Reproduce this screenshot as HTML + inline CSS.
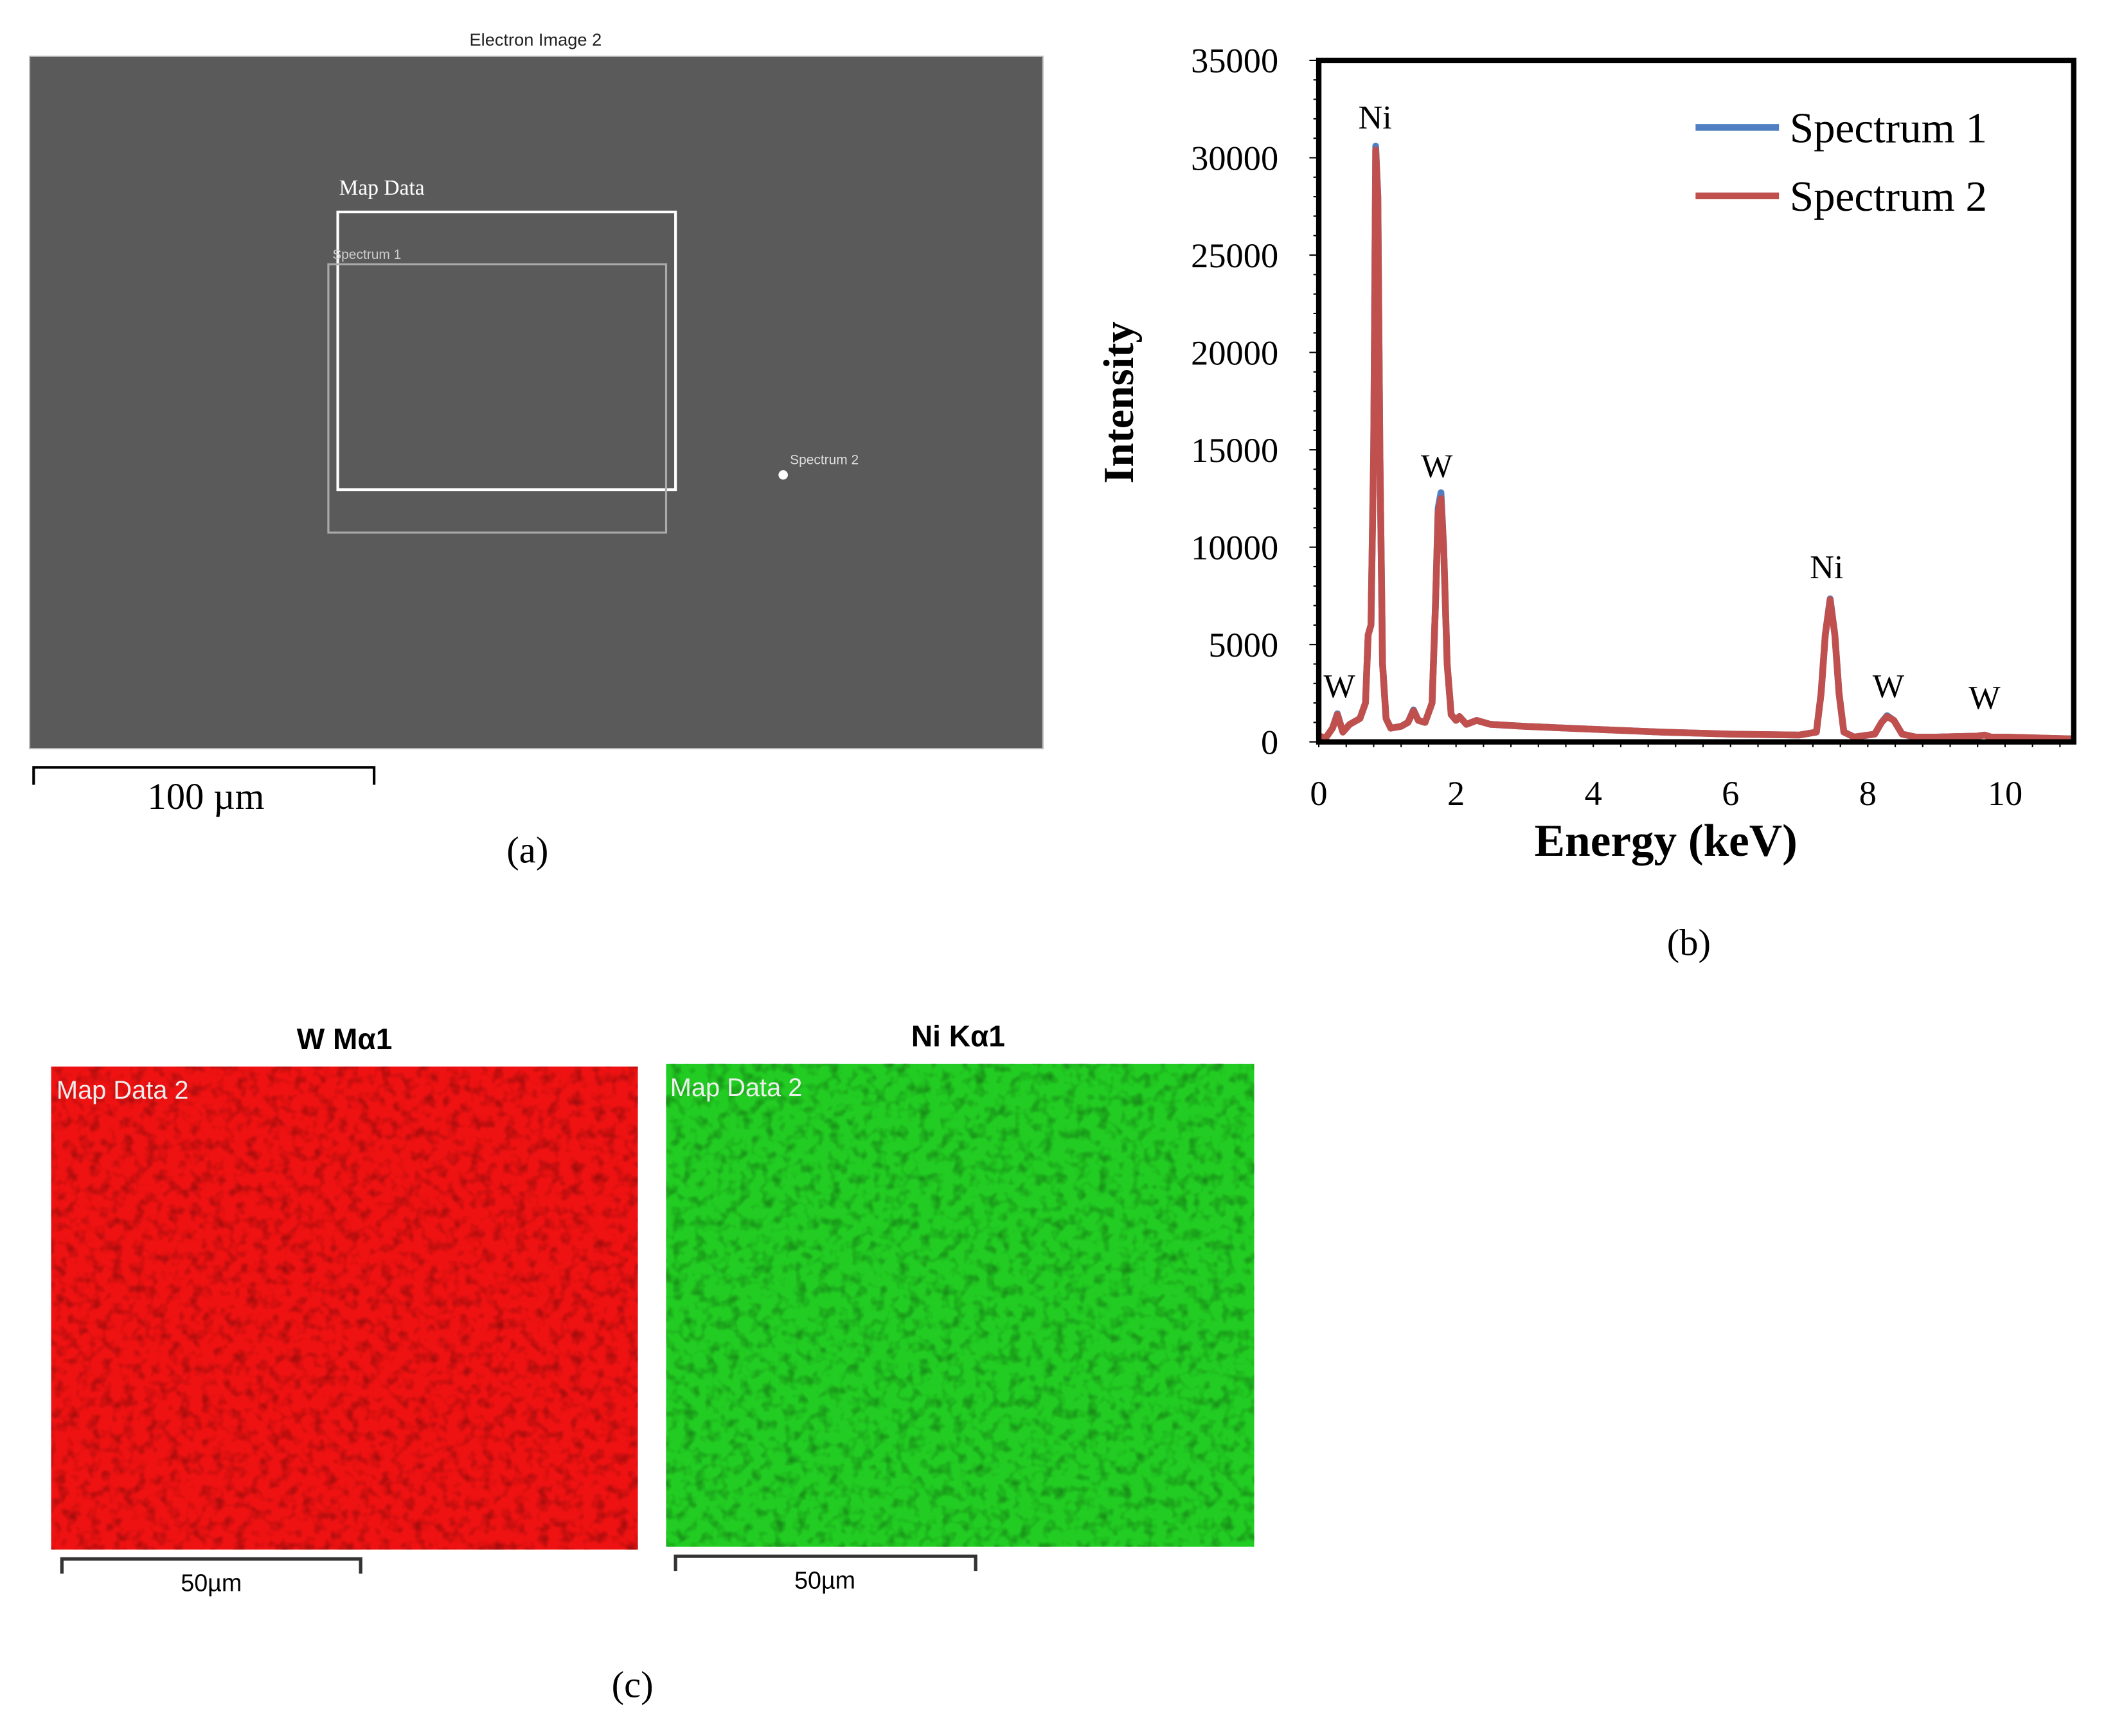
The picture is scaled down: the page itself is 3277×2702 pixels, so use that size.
<!DOCTYPE html>
<html><head><meta charset="utf-8">
<style>
html,body{margin:0;padding:0;background:#fff;}
svg{display:block;}
.serif{font-family:"Liberation Serif",serif;}
.sans{font-family:"Liberation Sans",sans-serif;}
</style></head>
<body>
<svg id="fig" width="3277" height="2702" viewBox="0 0 1565 1294" preserveAspectRatio="none" xmlns="http://www.w3.org/2000/svg">
<defs>
<filter id="noiseR" x="0" y="0" width="100%" height="100%">
<feTurbulence type="fractalNoise" baseFrequency="0.12" numOctaves="2" seed="3"/>
<feColorMatrix type="matrix" values="0 0 0 0 0  0 0 0 0 0  0 0 0 0 0  0 0 0 -1.4 0.75"/>
</filter>
<filter id="noiseG" x="0" y="0" width="100%" height="100%">
<feTurbulence type="fractalNoise" baseFrequency="0.12" numOctaves="2" seed="7"/>
<feColorMatrix type="matrix" values="0 0 0 0 0  0 0 0 0 0  0 0 0 0 0  0 0 0 -1.4 0.75"/>
</filter>
</defs>

<!-- Panel (a) -->
<g>
<text x="398" y="34" text-anchor="middle" class="sans" font-size="13" fill="#222">Electron Image 2</text>
<rect x="22" y="42" width="753" height="516" fill="#5a5a5a" stroke="#bbb" stroke-width="1"/>
<text x="252" y="145" class="serif" font-size="16" fill="#fff">Map Data</text>
<rect x="251" y="158" width="251" height="207" fill="none" stroke="#fff" stroke-width="2"/>
<text x="247" y="193" class="sans" font-size="10" fill="#ccc">Spectrum 1</text>
<rect x="244" y="197" width="251" height="200" fill="none" stroke="#aaa" stroke-width="1.5"/>
<circle cx="582" cy="354" r="3.5" fill="#fff"/>
<text x="587" y="346" class="sans" font-size="10" fill="#ddd">Spectrum 2</text>
<path d="M25 585 V572 H278 V585" fill="none" stroke="#000" stroke-width="2"/>
<text x="153" y="603" text-anchor="middle" class="serif" font-size="28">100 µm</text>
<text x="392" y="643" text-anchor="middle" class="serif" font-size="28">(a)</text>
</g>

<!-- Panel (b) chart -->
<g id="chart"></g>
<text x="1255" y="712" text-anchor="middle" class="serif" font-size="28">(b)</text>

<!-- Panel (c) -->
<g>
<text x="256" y="782" text-anchor="middle" class="sans" font-weight="bold" font-size="22">W Mα1</text>
<rect x="38" y="795" width="436" height="360" fill="#ee1212"/>
<rect x="38" y="795" width="436" height="360" fill="#000" filter="url(#noiseR)" opacity="0.5"/>
<text x="42" y="819" class="sans" font-size="19" fill="#eee">Map Data 2</text>
<path d="M46 1173 V1162 H268 V1173" fill="none" stroke="#333" stroke-width="2.5"/>
<text x="157" y="1186" text-anchor="middle" class="sans" font-size="18">50µm</text>

<text x="712" y="780" text-anchor="middle" class="sans" font-weight="bold" font-size="22">Ni Kα1</text>
<rect x="495" y="793" width="437" height="360" fill="#22cc22"/>
<rect x="495" y="793" width="437" height="360" fill="#000" filter="url(#noiseG)" opacity="0.5"/>
<text x="498" y="817" class="sans" font-size="19" fill="#eee">Map Data 2</text>
<path d="M502 1171 V1160 H725 V1171" fill="none" stroke="#333" stroke-width="2.5"/>
<text x="613" y="1184" text-anchor="middle" class="sans" font-size="18">50µm</text>
<text x="470" y="1265" text-anchor="middle" class="serif" font-size="28">(c)</text>
</g>
</svg>

<script>
const energy = [0,0.1,0.2,0.27,0.35,0.45,0.6,0.68,0.72,0.76,0.8,0.83,0.86,0.89,0.93,0.98,1.05,1.2,1.3,1.38,1.45,1.55,1.65,1.7,1.74,1.78,1.82,1.87,1.93,2.0,2.05,2.15,2.3,2.5,3,4,5,6,7,7.25,7.32,7.38,7.45,7.52,7.58,7.65,7.8,8.1,8.2,8.28,8.38,8.5,8.7,9,9.6,9.7,9.8,10,11];
const spectrum1 = [300,200,700,1450,500,900,1200,2000,5500,6000,15000,30600,28000,15000,4000,1200,700,800,1000,1650,1100,1000,2000,7000,12000,12800,10000,4000,1400,1100,1300,900,1100,900,800,650,500,400,350,500,2500,5500,7350,5500,2500,500,250,400,1000,1350,1100,400,250,250,300,350,250,250,150];
const spectrum2 = [300,200,700,1400,500,900,1200,2000,5500,6000,15000,30400,28000,15000,4000,1200,700,800,1000,1600,1100,1000,2000,7000,11800,12500,10000,4000,1400,1100,1300,900,1100,900,800,650,500,400,350,500,2500,5500,7300,5500,2500,500,250,400,1000,1300,1100,400,250,250,300,350,250,250,150];
const yTicks = [0,5000,10000,15000,20000,25000,30000,35000];
const xTicks = [0,2,4,6,8,10];
const peakLabels = ["Ni","W","Ni","W","W","W"];
const peakEnergy = [0.82,1.72,7.4,0.3,8.3,9.7];
const peakIntensity = [31500,13600,8400,2300,2300,1700];
const seriesNames = ["Spectrum 1","Spectrum 2"];

const NS="http://www.w3.org/2000/svg";
const L=980,R=1541,T=45,B=553,XMAX=11,YMAX=35000;
const sx=v=>L+(v/XMAX)*(R-L);
const sy=v=>B-(v/YMAX)*(B-T);
const g=document.getElementById('chart');
function mk(tag,attrs,parent){const e=document.createElementNS(NS,tag);for(const k in attrs)e.setAttribute(k,attrs[k]);(parent||g).appendChild(e);return e;}

for(let v=0;v<=YMAX;v+=1000){
  const t=mk('line',{x1:L-(v%5000===0?7:4),x2:L,y1:sy(v),y2:sy(v),stroke:'#000','stroke-width':1});
  
  
}
for(let v=0;v<=XMAX+1e-6;v+=0.4){
  const t=mk('line',{x1:sx(v),x2:sx(v),y1:B,y2:B+4,stroke:'#000','stroke-width':1});
  
  
}
yTicks.forEach(v=>{
  const t=mk('text',{x:950,y:sy(v)+9,'text-anchor':'end','font-size':26,'class':'serif'});
  t.textContent=v;
  
  
});
xTicks.forEach(v=>{
  const t=mk('text',{x:sx(v),y:600,'text-anchor':'middle','font-size':26,'class':'serif'});
  t.textContent=v;
  
  
});
function path(xs,ys){return xs.map((x,i)=>(i?'L':'M')+sx(x).toFixed(1)+' '+sy(ys[i]).toFixed(1)).join(' ');}
const p1=mk('path',{d:path(energy,spectrum1),fill:'none',stroke:'#4f7fc0','stroke-width':5,'stroke-linejoin':'round'});


const p2=mk('path',{d:path(energy,spectrum2),fill:'none',stroke:'#c0504d','stroke-width':5,'stroke-linejoin':'round'});


peakLabels.forEach((s,i)=>{
  const t=mk('text',{x:sx(peakEnergy[i]),y:sy(peakIntensity[i]),'text-anchor':'middle','font-size':25,'class':'serif'});
  t.textContent=s;
  
  
});
const fr=mk('rect',{x:L,y:T,width:R-L,height:B-T,fill:'none',stroke:'#000','stroke-width':4});


const cols=['#4f7fc0','#c0504d'];
seriesNames.forEach((s,i)=>{
  const y=95+i*51;
  const ln=mk('line',{x1:1260,x2:1322,y1:y,y2:y,stroke:cols[i],'stroke-width':5});
  
  
  const t=mk('text',{x:1330,y:y+11,'font-size':32,'class':'serif'});
  t.textContent=s;
  
  
});
const xt=mk('text',{x:1238,y:638,'text-anchor':'middle','font-size':34,'font-weight':'bold','class':'serif'});
xt.textContent='Energy (keV)';


const yt=mk('text',{x:0,y:0,'text-anchor':'middle','font-size':32,'font-weight':'bold','class':'serif',transform:'translate(842,300) rotate(-90)'});
yt.textContent='Intensity';


</script>
</body></html>
